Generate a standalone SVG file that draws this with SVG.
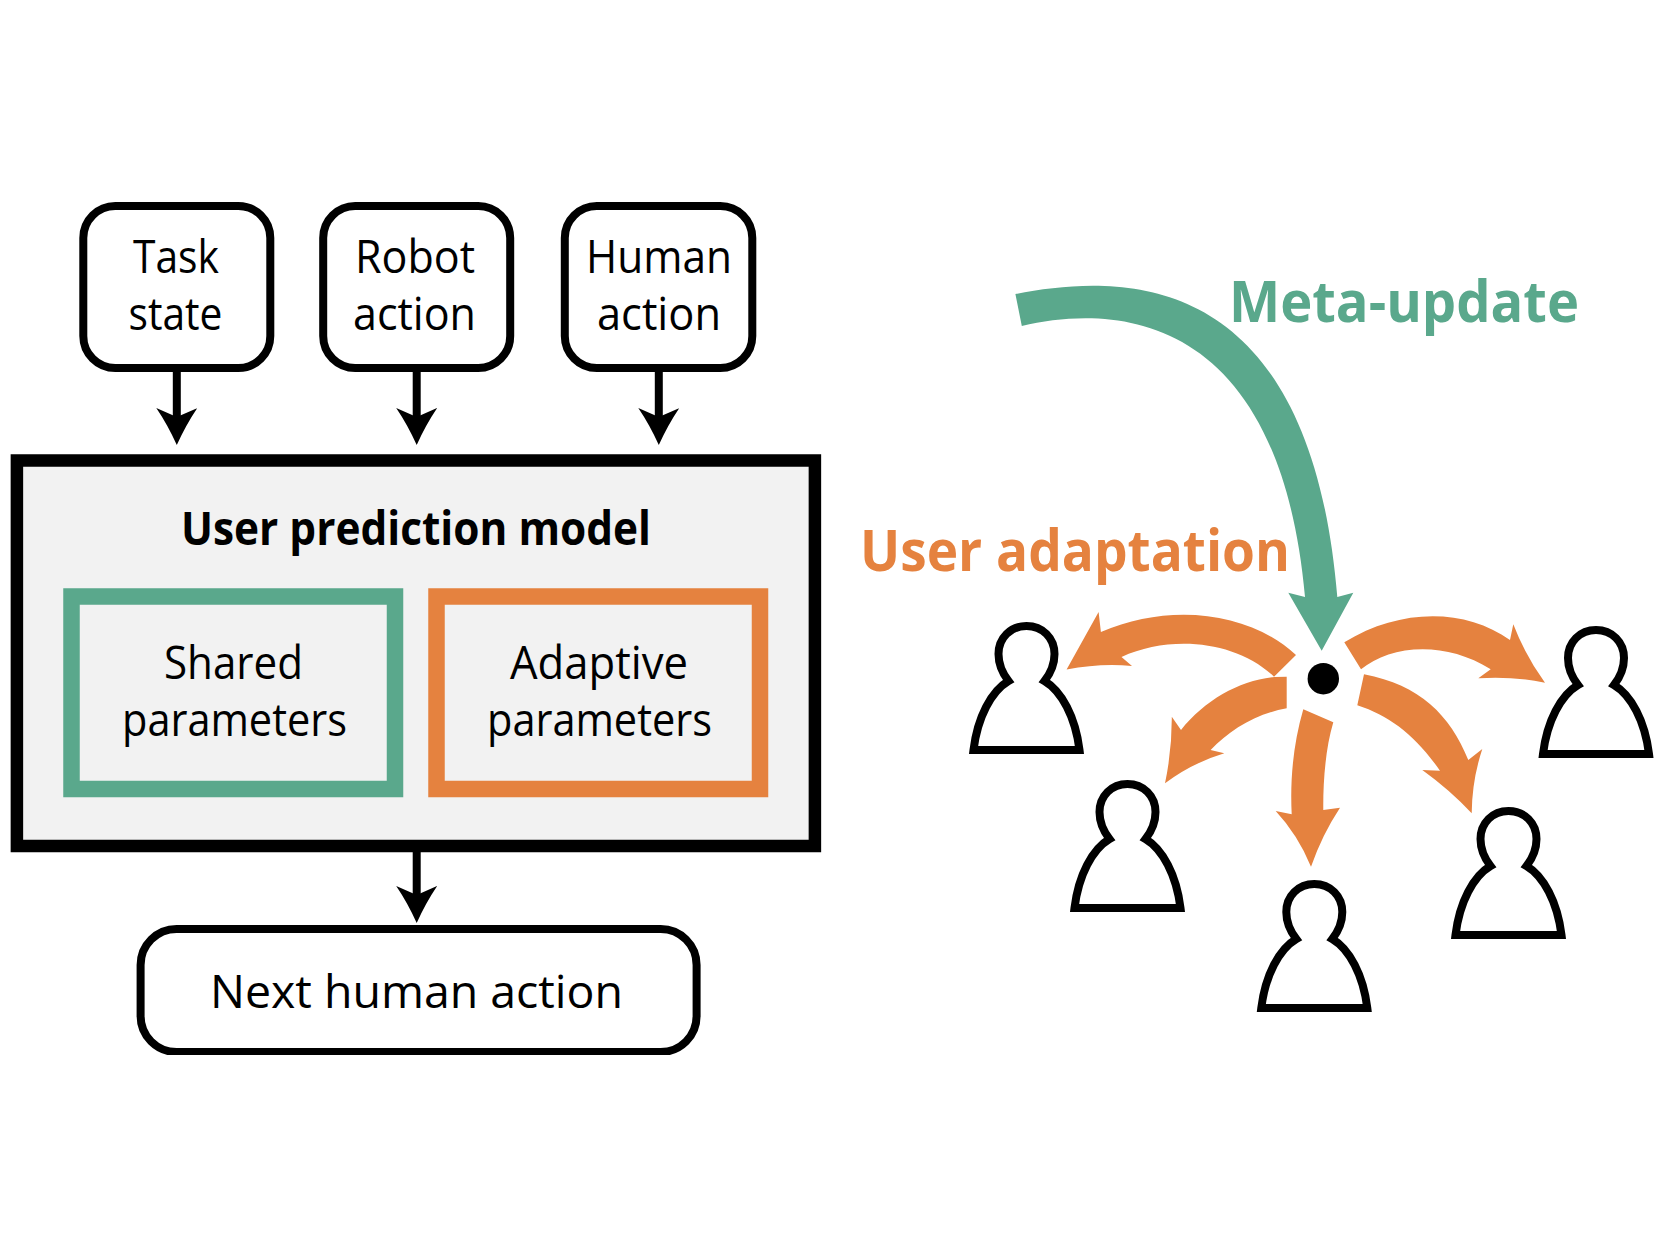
<svg xmlns="http://www.w3.org/2000/svg" width="1667" height="1250" viewBox="0 0 1667 1250">
<style>
text{font-family:"Open Sans","Noto Sans",sans-serif;fill:#000;font-size:46px}
.b{font-weight:700}
.big{font-size:58px;font-weight:700}
.box{fill:#fff;stroke:#000;stroke-width:8}
.conn{fill:none;stroke:#000;stroke-width:8;marker-end:url(#ah)}
.or{fill:#e5823f}
.gr{fill:#5aa88c}
.p{fill:#fff;stroke:#000;stroke-width:8;stroke-linejoin:miter;stroke-miterlimit:8}
</style>
<defs>
<marker id="ah" markerUnits="userSpaceOnUse" markerWidth="37" markerHeight="41" refX="9" refY="20.5" orient="auto" viewBox="0 0 37 41"><path d="M0,0 Q17,11.500 37,20.500 Q17,29.500 0,41 L9,20.500Z" fill="#000"/></marker>
<clipPath id="nc"><rect x="120" y="910" width="610" height="145"/></clipPath>
<path id="person" class="p" d="M-18,59 C-25,50 -28,41 -28,32 C-28,16 -16,4 0,4 C16,4 28,16 28,32 C28,41 25,50 18,59 C35,69 49,95 53,128 L-53,128 C-49,95 -35,69 -18,59Z"/>
</defs>
<rect width="1667" height="1250" fill="#fff"/>

<g id="connectors">
<path class="conn" d="M176.800,372V417"/>
<path class="conn" d="M416.700,372V417"/>
<path class="conn" d="M658.800,372V417"/>
<path class="conn" d="M416.700,852V895"/>
</g>

<g id="task-state"><rect class="box" x="83.300" y="206" width="187" height="162" rx="32"/>
<text x="133" y="273" textLength="86" lengthAdjust="spacingAndGlyphs">Task</text><text x="128.500" y="330" textLength="94" lengthAdjust="spacingAndGlyphs">state</text></g>
<g id="robot-action"><rect class="box" x="323.200" y="206" width="187" height="162" rx="32"/>
<text x="355" y="273" textLength="120" lengthAdjust="spacingAndGlyphs">Robot</text><text x="353" y="330" textLength="123" lengthAdjust="spacingAndGlyphs">action</text></g>
<g id="human-action"><rect class="box" x="564.800" y="206" width="187.500" height="162" rx="32"/>
<text x="586" y="273" textLength="146" lengthAdjust="spacingAndGlyphs">Human</text><text x="597" y="330" textLength="124" lengthAdjust="spacingAndGlyphs">action</text></g>

<g id="user-prediction-model"><rect x="16.900" y="460.500" width="798" height="385.500" fill="#f2f2f2" stroke="#000" stroke-width="12.500"/>
<text class="b" x="181" y="545" textLength="470" lengthAdjust="spacingAndGlyphs">User prediction model</text></g>
<g id="shared-parameters"><rect x="71.500" y="596.500" width="323.500" height="192.500" fill="none" stroke="#5aa88c" stroke-width="16.500"/>
<text x="164" y="679" textLength="139" lengthAdjust="spacingAndGlyphs">Shared</text><text x="122" y="736" textLength="225" lengthAdjust="spacingAndGlyphs">parameters</text></g>
<g id="adaptive-parameters"><rect x="436.500" y="596.500" width="323.500" height="192.500" fill="none" stroke="#e5823f" stroke-width="16.500"/>
<text x="510" y="679" textLength="178" lengthAdjust="spacingAndGlyphs">Adaptive</text><text x="487" y="736" textLength="225" lengthAdjust="spacingAndGlyphs">parameters</text></g>

<g id="next-human-action"><rect class="box" x="140.600" y="929" width="556" height="123" rx="36" clip-path="url(#nc)"/>
<text x="210" y="1008" textLength="413" lengthAdjust="spacingAndGlyphs">Next human action</text></g>

<g id="meta-update">
<path class="gr" d="M1015.400,294 C1125,273 1310,268 1337.300,597 L1353.300,592.700 L1321.700,650.700 L1288.300,592.700 L1305,597 C1280,320 1125,302 1021.800,326Z"/>
<text class="big" x="1229" y="322" textLength="350" lengthAdjust="spacingAndGlyphs" style="fill:#5aa88c">Meta-update</text>
</g>
<text id="user-adaptation" class="big" x="860" y="571" textLength="430" lengthAdjust="spacingAndGlyphs" style="fill:#e5823f">User adaptation</text>

<g id="adaptation-arrows">
<path class="or" d="M1296,655 C1250,612 1170,602 1100.900,632 L1098.600,612 L1066.600,669.600 Q1100,663 1132,666 L1121.500,657 C1170,635 1235,640 1274,676.700Z"/>
<path class="or" d="M1286.700,676.700 L1274.600,677 C1240,680 1205,700 1181,730 L1171.800,716.700 Q1172,750 1165,783.300 Q1192,763 1224.300,753.300 L1210.600,750 C1230,730 1255,714 1286.700,708.300Z"/>
<path class="or" d="M1303.300,709.300 L1333.300,722.300 C1325,750 1323,785 1323.300,810 L1340,807.700 Q1322,835 1311,866.700 Q1298,835 1275.700,811 L1291.700,814.300 C1290,780 1293,745 1303.300,709.300Z"/>
<path class="or" d="M1364,674.300 L1357.300,705.300 C1390,716 1415,735 1440,770.700 L1422.300,770 Q1450,790 1471.700,813.300 Q1472,780 1482.300,749 L1468.300,760 C1450,715 1420,685 1364,674.300Z"/>
<path class="or" d="M1344.300,642.300 L1361,669.300 C1390,645 1445,640 1490.700,669.300 L1478.300,678.300 Q1512,676 1545,682.700 Q1525,655 1513.300,624.300 L1510,640 C1465,608 1400,608 1344.300,642.300Z"/>
</g>
<circle id="center-dot" cx="1323.300" cy="678.700" r="15.700" fill="#000"/>

<g id="user-1"><use href="#person" x="1026.500" y="622"/></g>
<g id="user-2"><use href="#person" x="1127.500" y="780"/></g>
<g id="user-3"><use href="#person" x="1314.300" y="880"/></g>
<g id="user-4"><use href="#person" x="1508.500" y="807"/></g>
<g id="user-5"><use href="#person" x="1596" y="626"/></g>
</svg>
